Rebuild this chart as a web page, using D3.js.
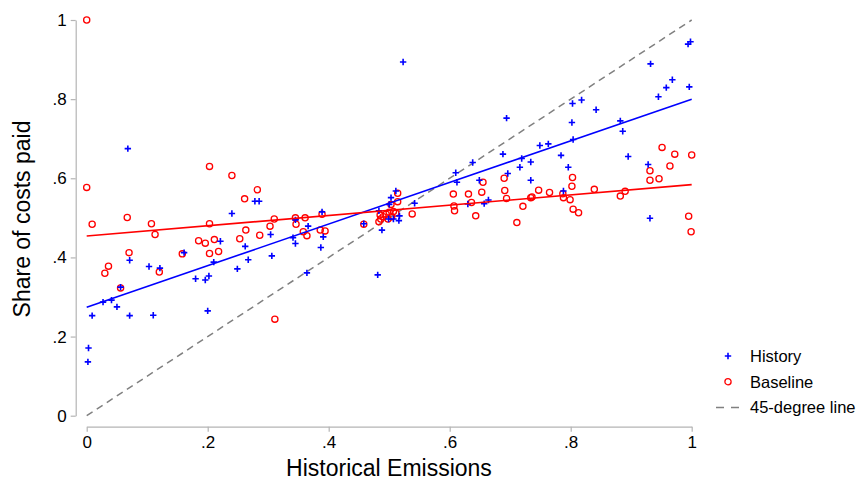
<!DOCTYPE html>
<html lang="en">
  <head>
    <meta charset="UTF-8" />
    <title>Share of costs paid vs historical emissions</title>
    <script src="https://d3js.org/d3.v7.min.js"></script>
    <style>
      body {
        margin: 0;
        background: #ffffff;
      }
      .chart text {
        font-family: "Liberation Sans", Arial, Helvetica, sans-serif;
        fill: #000;
      }
    </style>
  </head>
  <body>
    <div class="chart"></div>
  </body>

  <script>
    // History points: [historical emissions, share of costs paid]
    var historyPoints = [
      [0.068, 0.675], [0.278, 0.542], [0.285, 0.542], [0.240, 0.511], [0.221, 0.441],
      [0.304, 0.458], [0.306, 0.404], [0.262, 0.428], [0.267, 0.394], [0.249, 0.371],
      [0.210, 0.388], [0.202, 0.353], [0.196, 0.343], [0.180, 0.346], [0.200, 0.265],
      [0.161, 0.412], [0.121, 0.373], [0.103, 0.377], [0.110, 0.254], [0.071, 0.393],
      [0.071, 0.253], [0.056, 0.325], [0.027, 0.287], [0.041, 0.292], [0.050, 0.275],
      [0.009, 0.253], [0.003, 0.171], [0.002, 0.136], [0.345, 0.495], [0.366, 0.479],
      [0.341, 0.450], [0.345, 0.435], [0.364, 0.361], [0.389, 0.515], [0.391, 0.452],
      [0.387, 0.425], [0.458, 0.485], [0.481, 0.356], [0.483, 0.518], [0.488, 0.469],
      [0.503, 0.551], [0.511, 0.568], [0.500, 0.534], [0.517, 0.505], [0.516, 0.493],
      [0.499, 0.497], [0.507, 0.497], [0.542, 0.537], [0.610, 0.614], [0.612, 0.590],
      [0.523, 0.894], [0.694, 0.752], [0.803, 0.789], [0.818, 0.798], [0.842, 0.773],
      [0.802, 0.741], [0.882, 0.745], [0.886, 0.719], [0.895, 0.655], [0.932, 0.889],
      [0.945, 0.806], [0.958, 0.829], [0.968, 0.849], [0.996, 0.831], [0.994, 0.939],
      [0.998, 0.945], [0.928, 0.635], [0.931, 0.499], [0.804, 0.698], [0.784, 0.658],
      [0.796, 0.628], [0.788, 0.568], [0.749, 0.683], [0.763, 0.687], [0.734, 0.641],
      [0.719, 0.650], [0.716, 0.628], [0.734, 0.595], [0.688, 0.661], [0.696, 0.612],
      [0.638, 0.640], [0.649, 0.595], [0.630, 0.535], [0.664, 0.545], [0.657, 0.536]
    ];

    // Baseline points
    var baselinePoints = [
      [0.000, 1.000], [0.203, 0.630], [0.240, 0.607], [0.282, 0.571], [0.261, 0.548],
      [0.000, 0.577], [0.067, 0.501], [0.310, 0.497], [0.009, 0.484], [0.107, 0.485],
      [0.113, 0.458], [0.203, 0.485], [0.185, 0.442], [0.196, 0.436], [0.211, 0.445],
      [0.253, 0.447], [0.263, 0.469], [0.286, 0.456], [0.303, 0.479], [0.218, 0.415],
      [0.203, 0.410], [0.158, 0.409], [0.120, 0.363], [0.070, 0.412], [0.036, 0.378],
      [0.030, 0.360], [0.056, 0.323], [0.311, 0.244], [0.345, 0.500], [0.346, 0.484],
      [0.361, 0.500], [0.358, 0.465], [0.364, 0.455], [0.389, 0.509], [0.386, 0.469],
      [0.394, 0.467], [0.458, 0.484], [0.483, 0.490], [0.486, 0.497], [0.490, 0.503],
      [0.495, 0.509], [0.500, 0.514], [0.507, 0.516], [0.511, 0.512], [0.504, 0.503],
      [0.485, 0.507], [0.498, 0.497], [0.503, 0.534], [0.514, 0.541], [0.514, 0.562],
      [0.538, 0.510], [0.606, 0.560], [0.607, 0.530], [0.608, 0.518], [0.951, 0.678],
      [0.972, 0.661], [1.000, 0.659], [0.964, 0.631], [0.931, 0.619], [0.931, 0.595],
      [0.946, 0.599], [0.995, 0.504], [0.999, 0.465], [0.890, 0.567], [0.882, 0.555],
      [0.839, 0.572], [0.803, 0.602], [0.802, 0.580], [0.787, 0.561], [0.788, 0.551],
      [0.799, 0.546], [0.804, 0.522], [0.813, 0.513], [0.765, 0.564], [0.747, 0.570],
      [0.736, 0.553], [0.734, 0.551], [0.721, 0.529], [0.711, 0.488], [0.690, 0.600],
      [0.691, 0.569], [0.694, 0.549], [0.655, 0.590], [0.653, 0.565], [0.631, 0.560],
      [0.636, 0.539], [0.643, 0.505]
    ];

    // fitted lines (end points) and the 45-degree reference
    var historyFit = [[0, 0.274], [1, 0.8]];
    var baselineFit = [[0, 0.454], [1, 0.584]];
    var diagonal = [[0, 0], [1, 1]];

    var tickValues = [0, 0.2, 0.4, 0.6, 0.8, 1];
    var tickLabels = ["0", ".2", ".4", ".6", ".8", "1"];
    var legendLabels = ["History", "Baseline", "45-degree line"];

    var width = 862;
    var height = 480;

    var svg = d3
      .select(".chart")
      .append("svg")
      .attr("width", width)
      .attr("height", height);

    var x = d3.scaleLinear().domain([0, 1]).range([86.7, 691.7]);
    var y = d3.scaleLinear().domain([0, 1]).range([415.7, 20]);

    var axisColor = "#b4b4b4";

    // Y axis, offset to the left like Stata
    var yAxis = svg
      .append("g")
      .attr("transform", "translate(75.7, 0)")
      .call(
        d3
          .axisLeft(y)
          .tickValues(tickValues)
          .tickFormat(function (d, i) {
            return tickLabels[i];
          })
          .tickSize(5)
          .tickSizeOuter(0)
      );

    // X axis, offset below
    var xAxis = svg
      .append("g")
      .attr("transform", "translate(0, 426.7)")
      .call(
        d3
          .axisBottom(x)
          .tickValues(tickValues)
          .tickFormat(function (d, i) {
            return tickLabels[i];
          })
          .tickSize(5)
          .tickSizeOuter(0)
      );

    [xAxis, yAxis].forEach(function (a) {
      a.select(".domain").attr("stroke", axisColor).attr("stroke-width", 1.2);
      a.selectAll(".tick line").attr("stroke", axisColor).attr("stroke-width", 1.2);
      a.selectAll(".tick text").attr("font-size", 17).attr("fill", "#000");
    });
    yAxis.selectAll(".tick text").attr("x", -9);
    xAxis.selectAll(".tick text").attr("y", 9);

    // axis titles
    svg
      .append("text")
      .attr("x", 389)
      .attr("y", 476)
      .attr("text-anchor", "middle")
      .attr("font-size", 23)
      .text("Historical Emissions");

    svg
      .append("text")
      .attr("transform", "translate(30, 219) rotate(-90)")
      .attr("text-anchor", "middle")
      .attr("font-size", 23)
      .text("Share of costs paid");

    var line = d3
      .line()
      .x(function (d) {
        return x(d[0]);
      })
      .y(function (d) {
        return y(d[1]);
      });

    // 45-degree line
    svg
      .append("path")
      .datum(diagonal)
      .attr("fill", "none")
      .attr("stroke", "#808080")
      .attr("stroke-width", 1.5)
      .attr("stroke-dasharray", "7,5")
      .attr("d", line);

    // baseline circles
    svg
      .append("g")
      .selectAll("circle")
      .data(baselinePoints)
      .enter()
      .append("circle")
      .attr("cx", function (d) {
        return x(d[0]);
      })
      .attr("cy", function (d) {
        return y(d[1]);
      })
      .attr("r", 3.1)
      .attr("fill", "none")
      .attr("stroke", "#ff0000")
      .attr("stroke-width", 1.3);

    // history plus markers
    var plusPath = "M-3.2,0H3.2M0,-3.2V3.2";
    svg
      .append("g")
      .selectAll("path")
      .data(historyPoints)
      .enter()
      .append("path")
      .attr("transform", function (d) {
        return "translate(" + x(d[0]) + "," + y(d[1]) + ")";
      })
      .attr("d", plusPath)
      .attr("stroke", "#0000ff")
      .attr("stroke-width", 1.6);

    // fit lines
    svg
      .append("path")
      .datum(historyFit)
      .attr("fill", "none")
      .attr("stroke", "#0000ff")
      .attr("stroke-width", 1.6)
      .attr("d", line);

    svg
      .append("path")
      .datum(baselineFit)
      .attr("fill", "none")
      .attr("stroke", "#ff0000")
      .attr("stroke-width", 1.6)
      .attr("d", line);

    // legend
    var legend = svg.append("g").attr("transform", "translate(728, 356)");
    var rowGap = 25.7;

    legend
      .append("path")
      .attr("d", plusPath)
      .attr("stroke", "#0000ff")
      .attr("stroke-width", 1.6);

    legend
      .append("circle")
      .attr("cy", rowGap)
      .attr("r", 3.1)
      .attr("fill", "none")
      .attr("stroke", "#ff0000")
      .attr("stroke-width", 1.3);

    legend
      .append("line")
      .attr("x1", -12)
      .attr("x2", 12)
      .attr("y1", rowGap * 2)
      .attr("y2", rowGap * 2)
      .attr("stroke", "#808080")
      .attr("stroke-width", 1.5)
      .attr("stroke-dasharray", "8,7");

    legend
      .selectAll("text")
      .data(legendLabels)
      .enter()
      .append("text")
      .attr("x", 22)
      .attr("y", function (d, i) {
        return i * rowGap + 6;
      })
      .attr("font-size", 16.5)
      .text(function (d) {
        return d;
      });
  </script>
</html>
